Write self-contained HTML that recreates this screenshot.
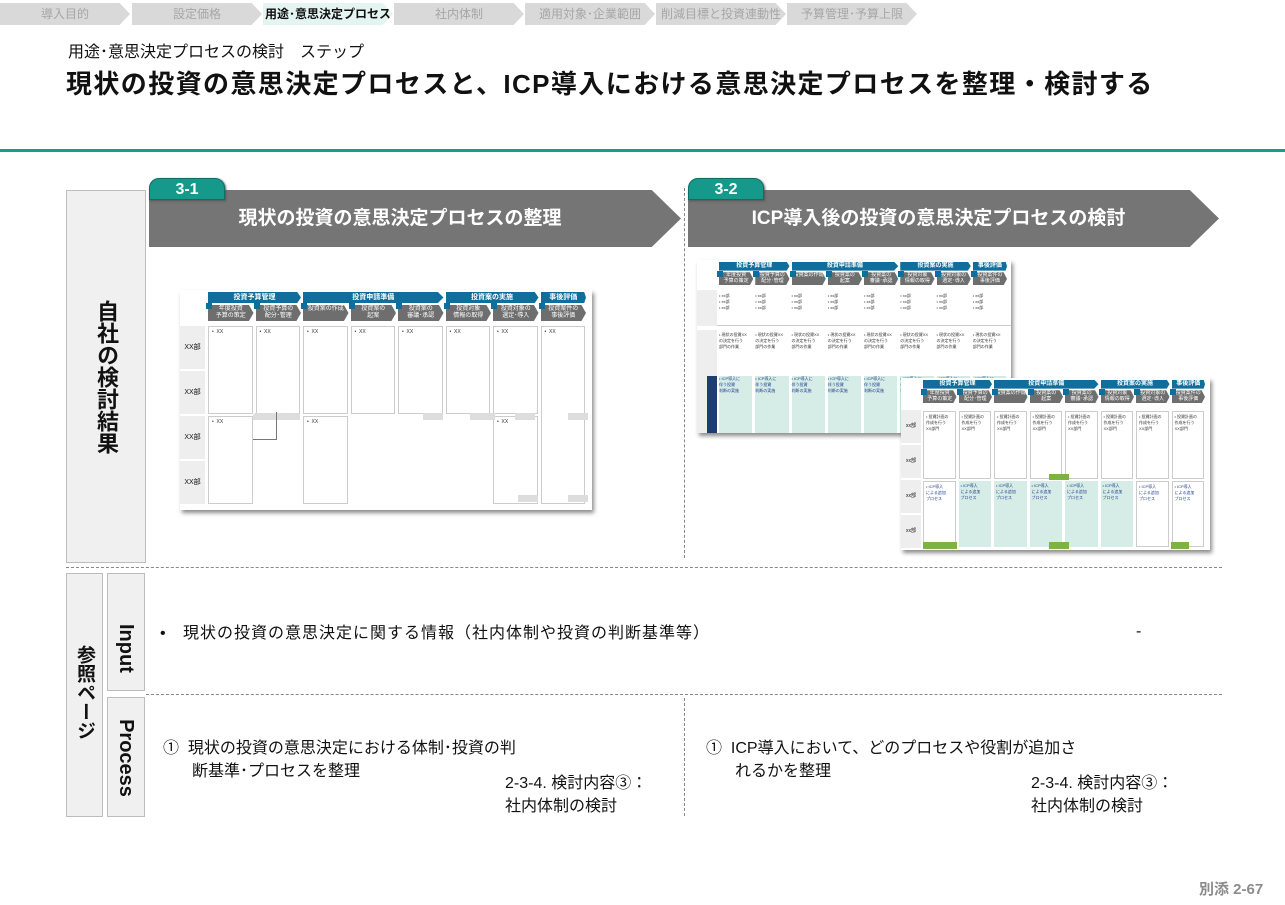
<!DOCTYPE html>
<html><head><meta charset="utf-8">
<style>
*{margin:0;padding:0;box-sizing:border-box}
body{width:1285px;height:905px;position:relative;background:#fff;font-family:"Liberation Sans","Noto Sans CJK JP",sans-serif;color:#111;overflow:hidden}
.a{position:absolute}
.nav{position:absolute;top:3px;height:22px;width:130px;background:#d9d9d9;color:#a6a6a6;font-size:12px;line-height:22px;text-align:center;clip-path:polygon(0 0,92% 0,100% 50%,92% 100%,0 100%)}
.vt{writing-mode:vertical-rl;text-orientation:upright;font-weight:bold}
.lbox{position:absolute;background:#f0f0f0;border:1px solid #bdbdbd}
.banner{position:absolute;height:57px;background:#757575;color:#fff;font-weight:bold;font-size:19px;line-height:57px;clip-path:polygon(0 0,94.5% 0,100% 50%,94.5% 100%,0 100%)}
.tab{position:absolute;height:22px;width:76px;background:#14998a;color:#fff;font-weight:bold;font-size:16px;line-height:22px;text-align:center;border-radius:10px 10px 0 0;border:1px solid #0d6e63;box-shadow:1px 1px 2px #555}
.hd{position:absolute;border-top:1px dashed #888;height:0}
.vd{position:absolute;border-left:1px dashed #888;width:0}
.t{position:absolute;font-size:16px;line-height:24px}
.thumb{position:absolute;background:#fff;box-shadow:2px 3px 4px rgba(0,0,0,.45)}
.b{position:absolute}
</style></head><body>

<div class="nav" style="left:0">導入目的</div>
<div class="nav" style="left:132px">設定価格</div>
<div class="nav" style="left:263px;background:#e4f4f1;color:#111;font-weight:bold">用途･意思決定プロセス</div>
<div class="nav" style="left:394px">社内体制</div>
<div class="nav" style="left:525px">適用対象･企業範囲</div>
<div class="nav" style="left:656px">削減目標と投資連動性</div>
<div class="nav" style="left:787px">予算管理･予算上限</div>

<div class="a" style="left:68px;top:38px;font-size:16px">用途･意思決定プロセスの検討　ステップ</div>
<div class="a" style="left:66px;top:64px;font-size:26px;font-weight:bold;letter-spacing:1.4px;white-space:nowrap">現状の投資の意思決定プロセスと、ICP導入における意思決定プロセスを整理・検討する</div>
<div class="a" style="left:0;top:149px;width:1285px;height:3px;background:#1a9c8c"></div>

<div class="lbox" style="left:66px;top:190px;width:80px;height:373px"></div>
<div class="a vt" style="left:91px;top:300px;font-size:22px;line-height:30px">自社の検討結果</div>

<div class="banner" style="left:149px;top:190px;width:532px;text-align:center;padding-right:30px">現状の投資の意思決定プロセスの整理</div>
<div class="tab" style="left:149px;top:178px">3-1</div>
<div class="banner" style="left:688px;top:190px;width:531px;text-align:center;padding-right:30px">ICP導入後の投資の意思決定プロセスの検討</div>
<div class="tab" style="left:688px;top:178px">3-2</div>
<div class="vd" style="left:684px;top:188px;height:370px"></div>

<div id="th1" class="thumb" style="left:180px;top:290px;width:412px;height:220px"></div>
<div id="th2" class="thumb" style="left:697px;top:260px;width:314px;height:173px"></div>
<div id="th3" class="thumb" style="left:901px;top:378px;width:309px;height:172px"></div>

<div class="hd" style="left:66px;top:567px;width:1156px"></div>
<div class="lbox" style="left:66px;top:573px;width:37px;height:244px"></div>
<div class="a vt" style="left:72px;top:645px;font-size:19px;line-height:24px">参照ページ</div>
<div class="lbox" style="left:107px;top:573px;width:38px;height:118px"></div>
<div class="a" style="left:108px;top:632px;width:36px;transform:rotate(90deg);font-weight:bold;font-size:20px;text-align:center;line-height:20px;white-space:nowrap">Input</div>
<div class="lbox" style="left:107px;top:697px;width:38px;height:120px"></div>
<div class="a" style="left:76px;top:748px;width:100px;transform:rotate(90deg);font-weight:bold;font-size:20px;text-align:center;line-height:20px;white-space:nowrap">Process</div>

<div class="t" style="left:160px;top:622px;letter-spacing:1px;white-space:nowrap">•&nbsp;&nbsp; 現状の投資の意思決定に関する情報（社内体制や投資の判断基準等）</div>
<div class="t" style="left:1136px;top:620px">-</div>
<div class="hd" style="left:146px;top:694px;width:1076px"></div>
<div class="vd" style="left:684px;top:698px;height:118px"></div>

<div class="t" style="left:163px;top:737px;white-space:nowrap">①&nbsp; 現状の投資の意思決定における体制･投資の判</div>
<div class="t" style="left:192px;top:760px">断基準･プロセスを整理</div>
<div class="t" style="left:505px;top:772px;white-space:nowrap">2-3-4. 検討内容③：</div>
<div class="t" style="left:505px;top:795px">社内体制の検討</div>
<div class="t" style="left:706px;top:737px;white-space:nowrap">①&nbsp; ICP導入において、どのプロセスや役割が追加さ</div>
<div class="t" style="left:735px;top:760px">れるかを整理</div>
<div class="t" style="left:1031px;top:772px;white-space:nowrap">2-3-4. 検討内容③：</div>
<div class="t" style="left:1031px;top:795px">社内体制の検討</div>

<div class="a" style="left:1199px;top:878px;font-size:15px;font-weight:bold;color:#8c8c8c">別添 2-67</div>

<script>
function box(p,x,y,w,h,st,txt){var d=document.createElement('div');d.className='b';d.style.cssText='left:'+x+'px;top:'+y+'px;width:'+w+'px;height:'+h+'px;'+(st||'');if(txt)d.innerHTML=txt;p.appendChild(d);return d;}
function header(p,x0,w,cols,groups,fs,scale){
  var cw=w/cols;
  groups.forEach(function(g){box(p,x0+g[0]*cw,2*scale,g[1]*cw-2,11*scale,'background:#0f6e9c;color:#fff;font-size:'+fs+'px;line-height:'+(11*scale)+'px;text-align:center;font-weight:bold;clip-path:polygon(0 0,96% 0,100% 50%,96% 100%,0 100%)',g[2]);});
  var st=['年度投資<br>予算の策定','投資予算の<br>配分･管理','投資案の作成','投資案の<br>起案','投資案の<br>審議･承認','投資対象<br>情報の取得','投資対象の<br>選定･導入','投資案件の<br>事後評価'];
  for(var i=0;i<cols;i++){box(p,x0+i*cw,15*scale,cw-2,16*scale,'background:#6e6e6e;color:#fff;font-size:'+(fs-1)+'px;line-height:'+(7*scale)+'px;text-align:center;padding-top:1px;clip-path:polygon(0 0,90% 0,100% 50%,90% 100%,0 100%)',st[i]);
   box(p,x0+i*cw-2,13*scale,6,6,'background:#0f6e9c');}
}
var G=[[0,2,'投資予算管理'],[2,3,'投資申請準備'],[5,2,'投資案の実施'],[7,1,'事後評価']];
var t1=document.getElementById('th1');
header(t1,28,380,8,G,7,1);
for(var r=0;r<4;r++)box(t1,0,36+r*45,25,43,'background:#eee;font-size:7px;line-height:43px;text-align:center','XX部');
var cw=47.5;
[[0,0,2],[0,2,2],[1,0,2],[2,0,2],[2,2,2],[3,0,2],[4,0,2],[5,0,2],[6,0,2],[6,2,2],[7,0,4]].forEach(function(c){
 box(t1,28+c[0]*cw,36+c[1]*45,cw-3,c[2]*45-2,'border:1px solid #ccc;font-size:5px;padding:2px 3px;color:#333','•&nbsp; XX');});
box(t1,73,123,30,7,'background:#ddd;border-radius:3px 3px 0 0');box(t1,100,123,20,7,'background:#ddd;border-radius:3px 3px 0 0');
box(t1,243,123,20,7,'background:#ddd');box(t1,290,123,25,7,'background:#ddd');box(t1,335,123,20,7,'background:#ddd');
box(t1,388,123,20,7,'background:#ddd');box(t1,388,205,20,7,'background:#ddd');box(t1,338,205,20,7,'background:#ddd');
box(t1,73,149,23,1,'background:#777');box(t1,96,122,1,28,'background:#777');
var t2=document.getElementById('th2');
header(t2,22,290,8,G,6,0.82);
box(t2,0,30,314,36,'background:#fff;border-bottom:1px solid #ccc');box(t2,0,30,20,36,'background:#eee');
box(t2,0,70,20,103,'background:#eee');box(t2,10,116,10,57,'background:#1d3e6e');
var c2=290/8;
for(var i=0;i<8;i++){box(t2,22+i*c2,33,c2-4,30,'font-size:4px;color:#333;line-height:6px','• xx部<br>• xx部<br>• xx部');
 box(t2,22+i*c2,72,c2-4,40,'font-size:4px;color:#333;line-height:6px','• 現状の投資XX<br>の決定を行う<br>部門の作業');
 box(t2,22+i*c2,116,c2-3,57,'background:#d6ece6;font-size:4px;color:#1d3e8e;line-height:6px','• ICP導入に<br>伴う投資<br>判断の実施');}
var t3=document.getElementById('th3');
header(t3,22,284,8,G,6,0.82);
var c3=284/8;
for(var r=0;r<4;r++)box(t3,0,32+r*35,20,33,'background:#eee;font-size:5px;line-height:33px;text-align:center','xx部');
for(var i=0;i<8;i++){
 box(t3,22+i*c3,33,c3-3,68,'border:1px solid #ccc;font-size:4px;color:#333;line-height:6px;padding:2px','• 投資計画の<br>作成を行う<br>XX部門');
 var teal=(i>=1&&i<=5);
 box(t3,22+i*c3,103,c3-3,66,(teal?'background:#d6ece6;':'border:1px solid #ccc;')+'font-size:4px;color:#1d3e8e;line-height:6px;padding:2px','• ICP導入<br>による追加<br>プロセス');}
box(t3,148,96,20,6,'background:#7cb342');box(t3,22,164,16,7,'background:#7cb342');box(t3,38,164,18,7,'background:#7cb342');
box(t3,148,164,20,7,'background:#7cb342');box(t3,270,164,18,7,'background:#7cb342');
</script>
</body></html>
